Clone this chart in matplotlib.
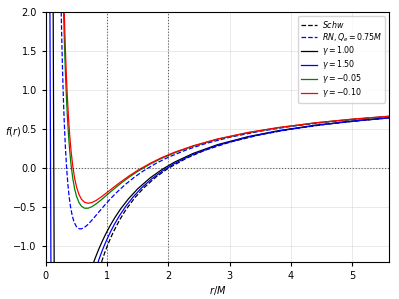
import numpy as np
import matplotlib
matplotlib.use("Agg")
from matplotlib import pyplot as plt

# r/M sample points and f(r) values
r_schw = [0.909, 0.93, 0.96, 1.0, 1.05, 1.1, 1.2, 1.3, 1.45, 1.6, 1.8, 2.0, 2.3, 2.6, 3.0, 3.5, 4.0, 4.6, 5.2, 5.6]
f_schw = [-1.200, -1.151, -1.083, -1.000, -0.905, -0.818, -0.667, -0.538, -0.379, -0.250, -0.111, 0.000,
          0.130, 0.231, 0.333, 0.429, 0.500, 0.565, 0.615, 0.643]

r_rn = [0.25, 0.26, 0.27, 0.28, 0.29, 0.30, 0.32, 0.34, 0.36, 0.38, 0.40, 0.43, 0.46, 0.50, 0.54, 0.58, 0.63,
        0.68, 0.74, 0.80, 0.88, 0.96, 1.05, 1.15, 1.3, 1.45, 1.6, 1.8, 2.0, 2.3, 2.6, 3.0, 3.5, 4.0, 4.6, 5.2, 5.6]
f_rn = [2.000, 1.629, 1.309, 1.032, 0.792, 0.583, 0.243, -0.016, -0.215, -0.368, -0.484, -0.609, -0.690,
        -0.750, -0.775, -0.776, -0.757, -0.725, -0.675, -0.621, -0.546, -0.473, -0.395, -0.314, -0.206,
        -0.112, -0.030, 0.063, 0.141, 0.237, 0.314, 0.396, 0.474, 0.535, 0.592, 0.636, 0.661]

# gamma = 1.00 : steep branch near r=0 and main branch
r_g100_in = [0.119, 0.135]
f_g100_in = [2.0, -1.2]
r_g100 = [0.78, 0.80, 0.83, 0.87, 0.92, 0.98, 1.05, 1.13, 1.22, 1.35, 1.5, 1.7, 1.9, 2.1, 2.4, 2.8, 3.3, 3.8,
          4.4, 5.0, 5.6]
f_g100 = [-1.203, -1.161, -1.101, -1.024, -0.935, -0.837, -0.733, -0.627, -0.521, -0.390, -0.263, -0.125,
          -0.014, 0.078, 0.188, 0.301, 0.404, 0.481, 0.550, 0.603, 0.645]

# gamma = 1.50
r_g150_in = [0.066, 0.082]
f_g150_in = [2.0, -1.2]
r_g150 = [0.853, 0.87, 0.90, 0.94, 0.99, 1.05, 1.12, 1.2, 1.3, 1.42, 1.56, 1.72, 1.9, 2.1, 2.4, 2.8, 3.3, 3.8,
          4.4, 5.0, 5.6]
f_g150 = [-1.199, -1.160, -1.096, -1.015, -0.923, -0.821, -0.716, -0.609, -0.492, -0.372, -0.253, -0.141,
          -0.036, 0.060, 0.176, 0.292, 0.398, 0.476, 0.547, 0.601, 0.644]

# gamma = -0.05
r_gm005 = [0.288, 0.30, 0.31, 0.32, 0.33, 0.34, 0.35, 0.37, 0.39, 0.41, 0.44, 0.47, 0.50, 0.54, 0.58, 0.63,
           0.69, 0.75, 0.82, 0.90, 1.0, 1.1, 1.22, 1.36, 1.5, 1.7, 1.9, 2.1, 2.4, 2.8, 3.3, 3.8, 4.4, 5.0, 5.6]
f_gm005 = [2.013, 1.667, 1.416, 1.195, 1.000, 0.827, 0.673, 0.416, 0.211, 0.048, -0.136, -0.268, -0.360,
           -0.440, -0.486, -0.512, -0.512, -0.493, -0.457, -0.407, -0.340, -0.273, -0.196, -0.114, -0.040,
           0.052, 0.130, 0.197, 0.281, 0.370, 0.455, 0.519, 0.580, 0.626, 0.664]

# gamma = -0.10
r_gm010 = [0.30, 0.31, 0.32, 0.33, 0.34, 0.35, 0.37, 0.39, 0.41, 0.44, 0.47, 0.50, 0.54, 0.58, 0.63, 0.69,
           0.75, 0.82, 0.90, 1.0, 1.1, 1.22, 1.36, 1.5, 1.7, 1.9, 2.1, 2.4, 2.8, 3.3, 3.8, 4.4, 5.0, 5.6]
f_gm010 = [2.000, 1.728, 1.488, 1.275, 1.087, 0.918, 0.635, 0.408, 0.227, 0.019, -0.132, -0.240, -0.337,
           -0.397, -0.436, -0.449, -0.440, -0.413, -0.370, -0.310, -0.248, -0.176, -0.098, -0.027, 0.062,
           0.139, 0.204, 0.286, 0.374, 0.457, 0.521, 0.581, 0.628, 0.665]

fig = plt.figure(figsize=(3.99, 2.99), dpi=100)
ax = fig.add_axes([0.115, 0.124, 0.86, 0.836])
lw = 0.9

ax.plot(r_schw, f_schw, color='k', ls='--', lw=lw, label=r'$Schw$')
ax.plot(r_rn, f_rn, color='b', ls='--', lw=lw, label=r'$RN, Q_e = 0.75M$')
ax.plot(r_g100, f_g100, color='k', lw=lw, label=r'$\gamma = 1.00$')
ax.plot(r_g100_in, f_g100_in, color='k', lw=lw)
ax.plot(r_g150, f_g150, color='b', lw=lw, label=r'$\gamma = 1.50$')
ax.plot(r_g150_in, f_g150_in, color='b', lw=lw)
ax.plot(r_gm005, f_gm005, color='g', lw=lw, label=r'$\gamma = -0.05$')
ax.plot(r_gm010, f_gm010, color='r', lw=lw, label=r'$\gamma = -0.10$')

# reference lines
ax.axhline(0, color='k', ls=':', lw=0.8, alpha=0.6)
ax.axvline(1, color='k', ls=':', lw=0.8, alpha=0.6)
ax.axvline(2, color='k', ls=':', lw=0.8, alpha=0.6)

ax.set_xlim(0, 5.6)
ax.set_ylim(-1.2, 2)
ax.set_yticks([-1.0, -0.5, 0.0, 0.5, 1.0, 1.5, 2.0])
ax.grid(True, color='lightgray', alpha=0.5, lw=0.7)
ax.tick_params(labelsize=7, length=3)
ax.set_xlabel(r'$r/M$', fontsize=7, labelpad=2)
ax.set_ylabel(r'$f(r)$', fontsize=7, rotation=0, va='center')
ax.yaxis.set_label_coords(-0.097, 0.52)
ax.legend(loc='upper right', fontsize=5.7, labelspacing=0.12, handlelength=2.0, borderpad=0.4,
          handletextpad=0.6)

fig.savefig("out.png")
